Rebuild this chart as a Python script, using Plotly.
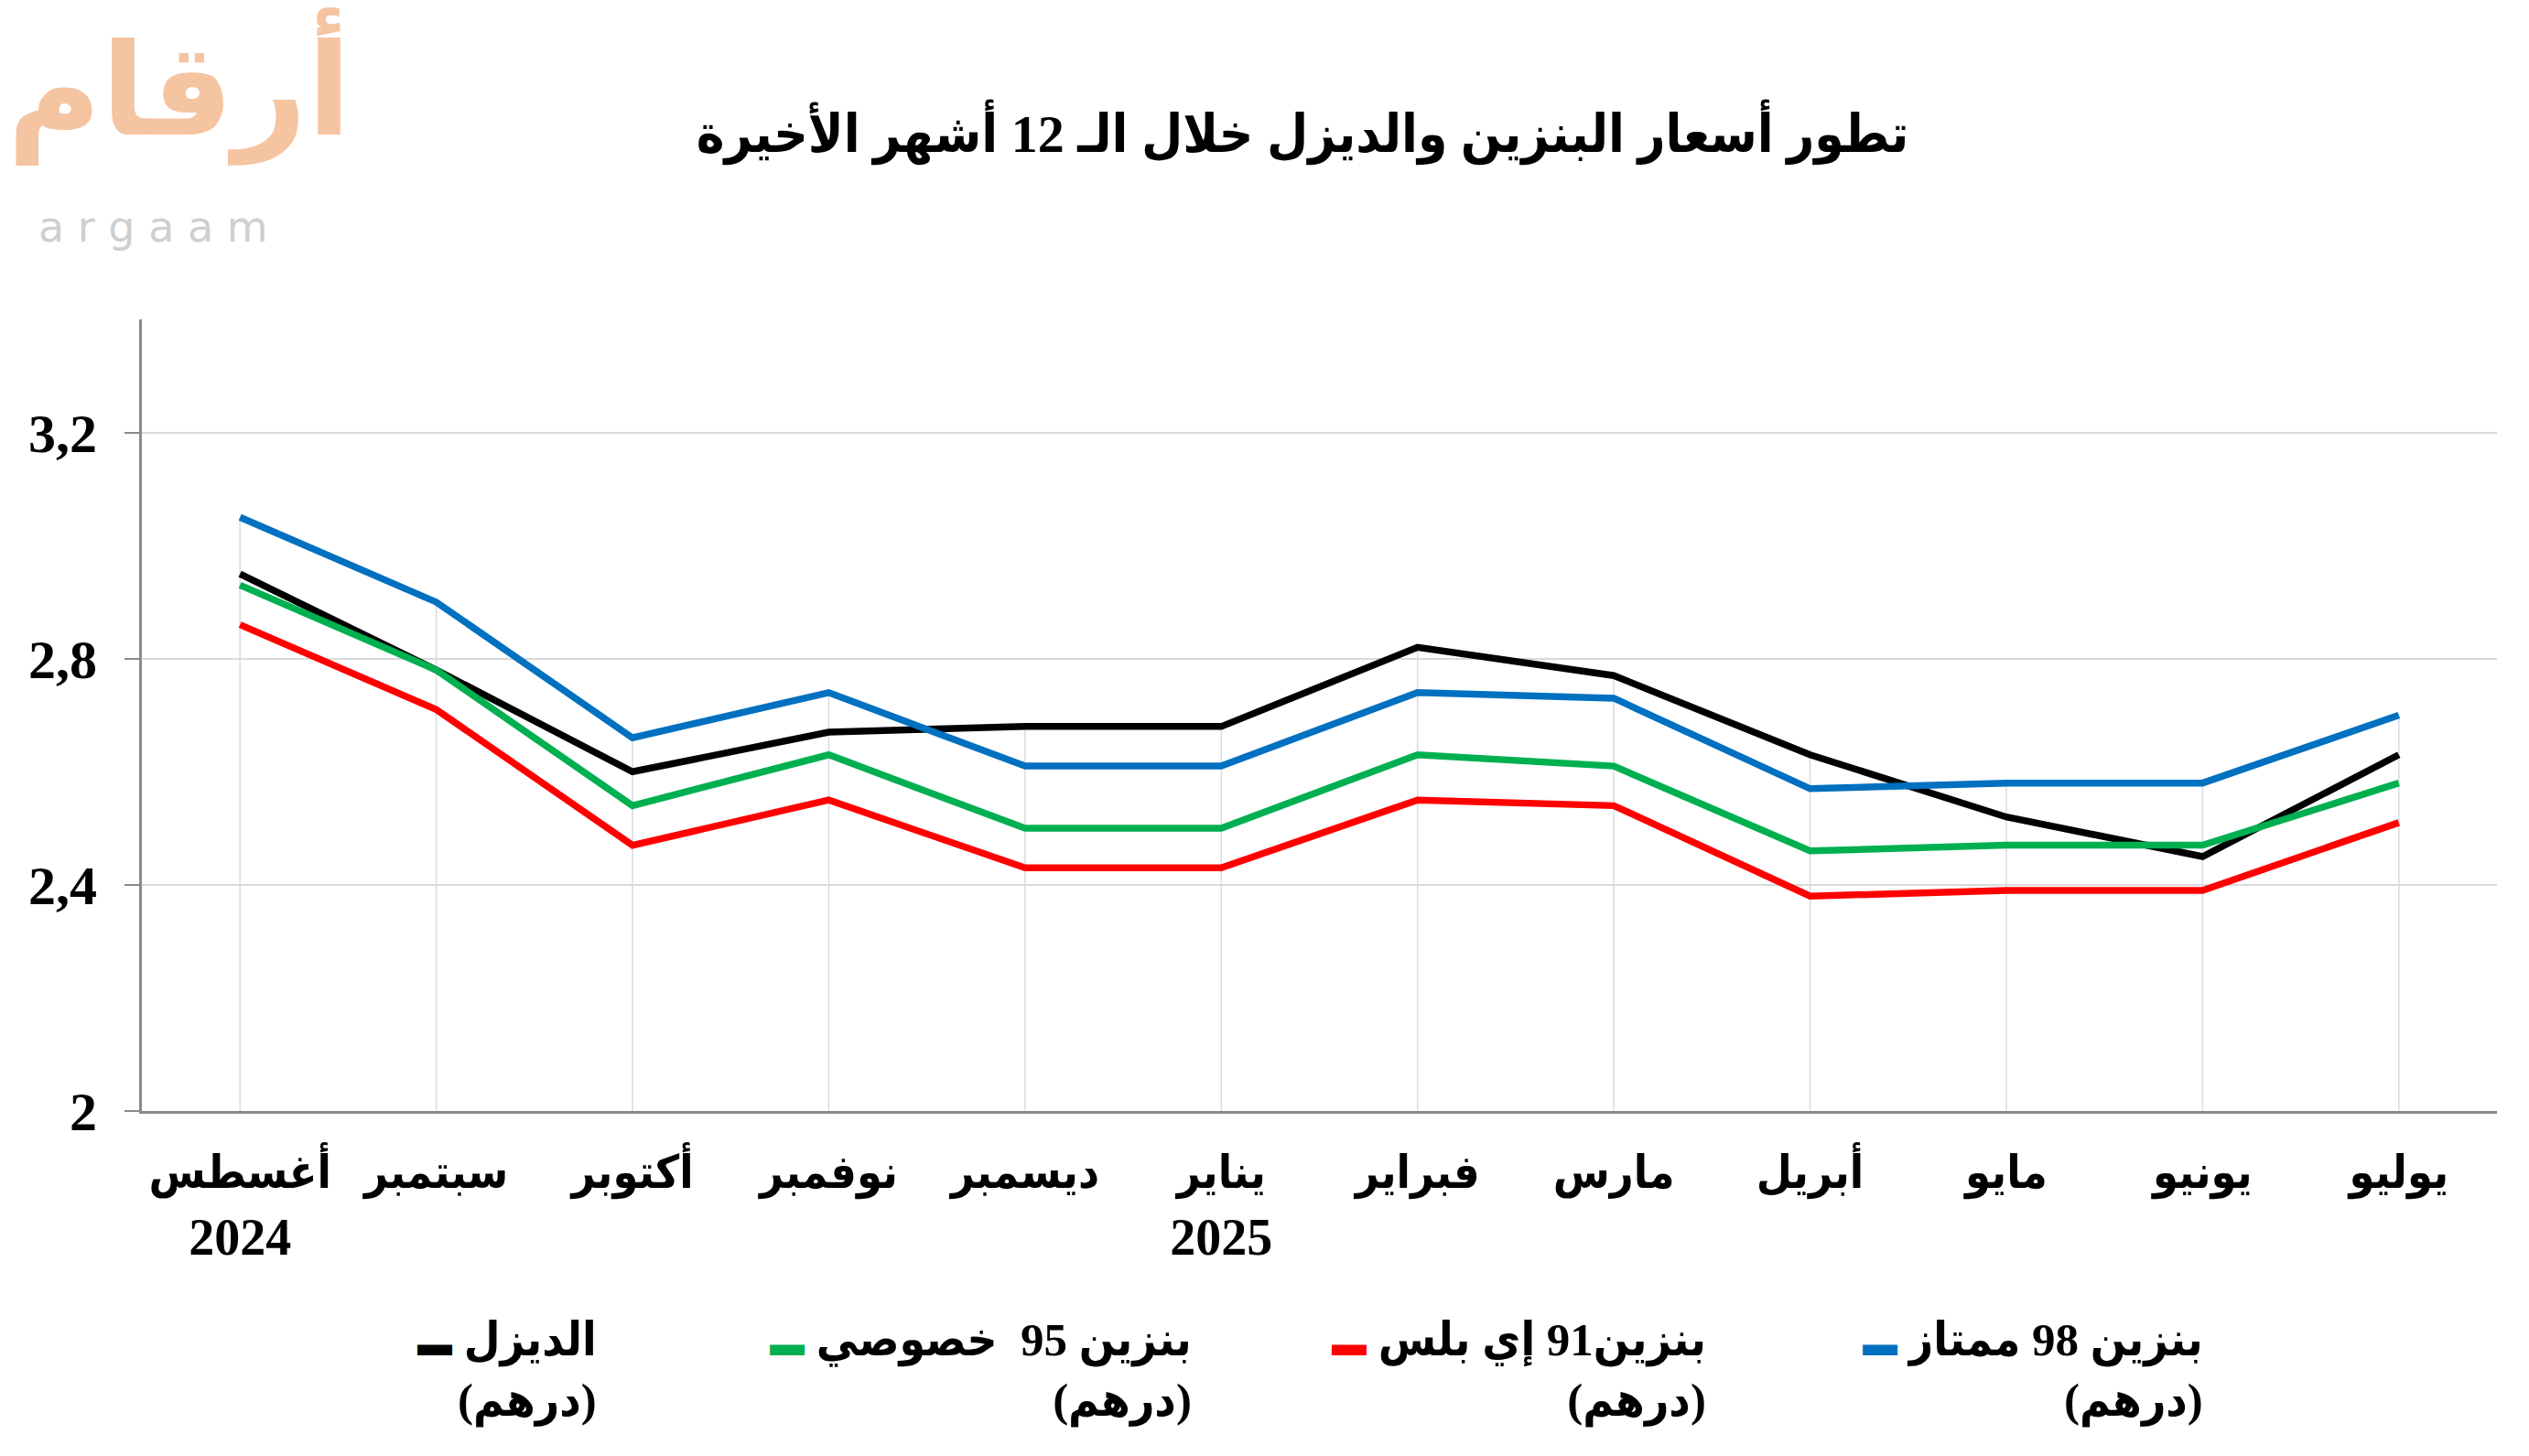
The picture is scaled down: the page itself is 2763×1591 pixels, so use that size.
import plotly.graph_objects as go

# ---------------- data ----------------
month_names = ["أغسطس", "سبتمبر", "أكتوبر", "نوفمبر", "ديسمبر", "يناير",
               "فبراير", "مارس", "أبريل", "مايو", "يونيو", "يوليو"]
month_years = ["2024", "", "", "", "", "2025", "", "", "", "", "", ""]
diesel = [2.95, 2.78, 2.60, 2.67, 2.68, 2.68, 2.82, 2.77, 2.63, 2.52, 2.45, 2.63]
special95 = [2.93, 2.78, 2.54, 2.63, 2.50, 2.50, 2.63, 2.61, 2.46, 2.47, 2.47, 2.58]
eplus91 = [2.86, 2.71, 2.47, 2.55, 2.43, 2.43, 2.55, 2.54, 2.38, 2.39, 2.39, 2.51]
super98 = [3.05, 2.90, 2.66, 2.74, 2.61, 2.61, 2.74, 2.73, 2.57, 2.58, 2.58, 2.70]

series_names = ["الديزل", "بنزين 95  خصوصي", "بنزين91 إي بلس", "بنزين 98 ممتاز"]
series_values = [diesel, special95, eplus91, super98]
series_colors = ["#000000", "#00B050", "#FF0000", "#0070C0"]
unit_label = "(درهم)"

y_tickvals = [2, 2.4, 2.8, 3.2]
y_ticktext = ["2", "2,4", "2,8", "3,2"]
y_min, y_max = 2, 3.4

title_text = "تطور أسعار البنزين والديزل خلال الـ 12 أشهر الأخيرة"

# ---------------- figure ----------------
FONT = "Liberation Serif, DejaVu Sans Condensed, DejaVu Sans, serif"
OFF = 8                      # page body margin
W, H = 2763 - OFF, 1591 - OFF
ML, MR, MT, MB = 155 - OFF, 35, 349 - OFF, 377
PW, PH = W - ML - MR, H - MT - MB
PLOT_BOTTOM = 1214           # screen px of plot bottom


def px_x(px):
    return (px - 155) / PW


def px_y(py):
    return (PLOT_BOTTOM - py) / PH


x_idx = list(range(len(month_names)))
tick_labels = []
for m, yr in zip(month_names, month_years):
    lab = f"<span style='font-size:50px'>{m}</span>"
    if yr:
        lab += f"<br>{yr}"
    tick_labels.append(f"<b>{lab}</b>")

fig = go.Figure()

# Excel-style drop lines: from axis to highest point of each category
drop_x, drop_y = [], []
for i in x_idx:
    top = max(v[i] for v in series_values)
    drop_x += [i, i, None]
    drop_y += [y_min, top, None]
fig.add_trace(go.Scatter(x=drop_x, y=drop_y, mode="lines",
                         line=dict(color="#D6DCE5", width=1.5),
                         hoverinfo="skip", showlegend=False))

for name, vals, col in zip(series_names, series_values, series_colors):
    fig.add_trace(go.Scatter(x=x_idx, y=vals, mode="lines", name=name,
                             line=dict(color=col, width=7.5), showlegend=False))

annotations = []
# legend built as right-aligned two-line labels (RTL style)
legend_right_px = [654, 1304, 1866, 2409]
for name, col, rpx in zip(series_names, series_colors, legend_right_px):
    txt = (f"<span style='color:{col};font-size:38px'>▬</span> {name}<br>{unit_label}")
    annotations.append(dict(
        x=px_x(rpx), y=px_y(1498), xref="paper", yref="paper",
        xanchor="right", yanchor="middle", align="right", showarrow=False,
        text=f"<b>{txt}</b>", font=dict(family=FONT, size=51, color="#000000")))

# logo (watermark)
annotations.append(dict(
    x=px_x(6), y=px_y(6), xref="paper", yref="paper",
    xanchor="left", yanchor="top", showarrow=False,
    text="<b>أرقام</b>", font=dict(family="DejaVu Sans", size=140, color="#F5C4A0")))
annotations.append(dict(
    x=px_x(40), y=px_y(248), xref="paper", yref="paper",
    xanchor="left", yanchor="middle", showarrow=False,
    text="a r g a a m", font=dict(family="DejaVu Sans", size=46, color="#CFCFCF")))

fig.update_layout(
    width=W, height=H,
    margin=dict(l=ML, r=MR, t=MT, b=MB),
    paper_bgcolor="white", plot_bgcolor="white",
    title=dict(text=f"<b>{title_text}</b>", x=(1423 - OFF) / W, xanchor="center",
               y=1 - (146 - OFF) / H, yanchor="middle",
               font=dict(family=FONT, size=58, color="#000000")),
    showlegend=False,
    annotations=annotations,
    xaxis=dict(range=[-0.5, len(month_names) - 0.5], tickmode="array",
               tickvals=x_idx, ticktext=tick_labels,
               showgrid=False, zeroline=False, showline=True,
               linecolor="#898989", linewidth=3, ticks="",
               ticklabelstandoff=14,
               tickfont=dict(family=FONT, size=56, color="#000000")),
    yaxis=dict(range=[y_min, y_max], tickmode="array", tickvals=y_tickvals,
               ticktext=[f"<b>{t}</b>" for t in y_ticktext],
               showgrid=True, gridcolor="#D9D9D9", gridwidth=2,
               zeroline=False, showline=True, linecolor="#898989", linewidth=3,
               ticks="outside", ticklen=16, tickcolor="#898989", tickwidth=2,
               ticklabelstandoff=18,
               tickfont=dict(family=FONT, size=60, color="#000000")),
)

fig.write_html("out.html")
